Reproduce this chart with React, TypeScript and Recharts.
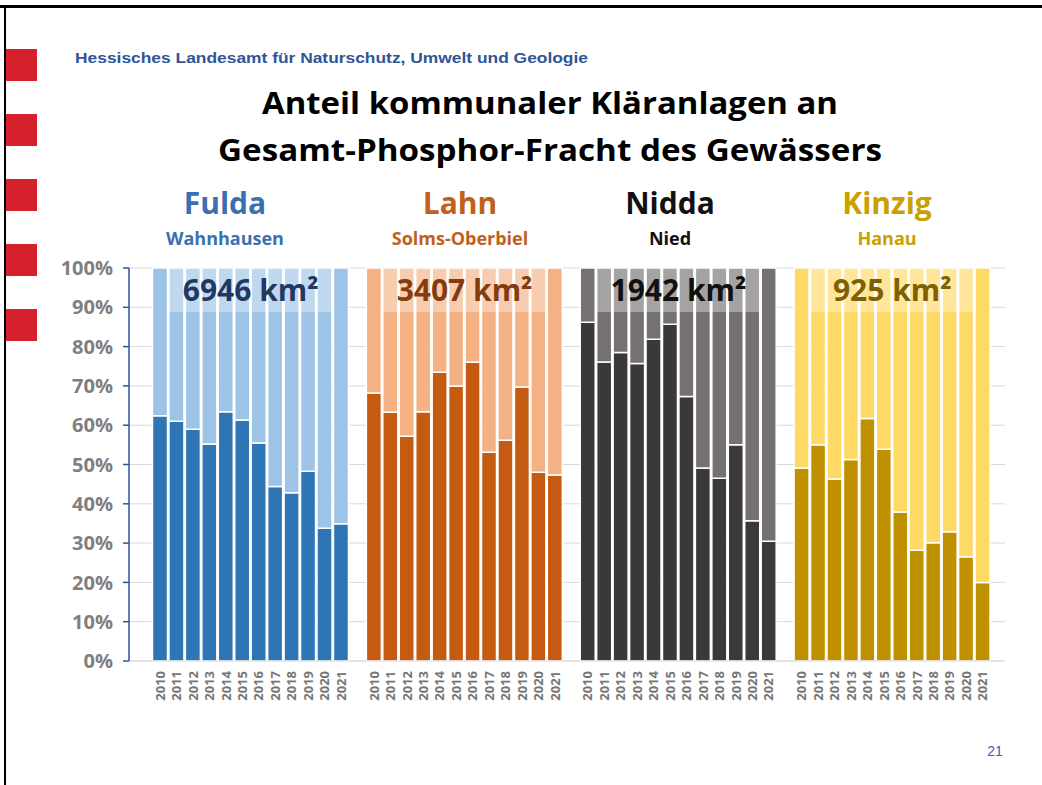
import React from "react";
import {
  BarChart,
  Bar,
  XAxis,
  YAxis,
  CartesianGrid,
  Cell,
  ReferenceArea,
} from "recharts";

const years = ["2010", "2011", "2012", "2013", "2014", "2015", "2016", "2017", "2018", "2019", "2020", "2021"];
const rivers = ["Fulda", "Lahn", "Nidda", "Kinzig"];
const gauges = ["Wahnhausen", "Solms-Oberbiel", "Nied", "Hanau"];
const catchments = ["6946 km²", "3407 km²", "1942 km²", "925 km²"];

// share of municipal treatment plants in total phosphorus load, %
const fuldaShare = [62.4, 61.0, 59.0, 55.2, 63.4, 61.3, 55.5, 44.4, 42.8, 48.3, 33.8, 34.9];
const lahnShare = [68.2, 63.3, 57.2, 63.4, 73.5, 70.0, 76.0, 53.1, 56.2, 69.7, 48.0, 47.3];
const niddaShare = [86.2, 76.1, 78.5, 75.7, 81.9, 85.7, 67.3, 49.1, 46.5, 55.0, 35.7, 30.5];
const kinzigShare = [49.1, 55.0, 46.3, 51.3, 61.7, 53.9, 37.9, 28.2, 30.1, 32.9, 26.5, 20.0];

const yTicks = [0, 10, 20, 30, 40, 50, 60, 70, 80, 90, 100];

// styles
const darkColors = ["#2E75B6", "#C55A11", "#3B3838", "#BF9000"];
const lightColors = ["#9DC3E6", "#F4B183", "#767171", "#FFD966"];
const titleColors = ["#3A70B0", "#C0601A", "#111111", "#C9A000"];
const areaTextColors = ["#1F3864", "#843C0C", "#111111", "#7F6000"];
const titleX = [225, 460, 670, 887];

const shares = [fuldaShare, lahnShare, niddaShare, kinzigShare];

const rows: any[] = [];
rivers.forEach((river, r) => {
  if (r > 0) rows.push({ key: `gap${r}`, group: -1, share: null, rest: null });
  years.forEach((year, i) => {
    const v = shares[r][i];
    rows.push({ key: `${river}-${year}`, group: r, share: v, rest: +(100 - v).toFixed(1) });
  });
});

const YearTick = ({ x, y, payload }: any) => {
  const year = String(payload.value).split("-")[1] || "";
  return (
    <text
      x={x}
      y={y}
      transform={`rotate(-90 ${x} ${y})`}
      dx={-2}
      dy="0.35em"
      textAnchor="end"
      fill="#767676"
      fontSize={13}
      fontWeight={700}
      fontFamily="Open Sans"
    >
      {year}
    </text>
  );
};

const App = () => {
  return (
    <div style={{ position: "absolute", left: 0, top: 0, width: 1042, height: 785, background: "#fff", overflow: "hidden" }}>
      {/* frame lines */}
      <div style={{ position: "absolute", left: 0, top: 5, width: 1042, height: 3, background: "#000" }} />
      <div style={{ position: "absolute", left: 4, top: 5, width: 2, height: 780, background: "#000" }} />
      {/* red side marks */}
      {[49, 114, 179, 244, 309].map((t) => (
        <div key={t} style={{ position: "absolute", left: 6, top: t, width: 31, height: 32, background: "#D7202E" }} />
      ))}

      <svg width={1042} height={785} style={{ position: "absolute", left: 0, top: 0 }}>
        <text x={75} y={63} fontFamily="Liberation Sans" fontWeight={700} fontSize={15} fill="#2F5597" textLength={513} lengthAdjust="spacingAndGlyphs">
          Hessisches Landesamt für Naturschutz, Umwelt und Geologie
        </text>
        <text x={550} y={114} textAnchor="middle" fontFamily="Open Sans" fontWeight={700} fontSize={31} fill="#000" textLength={576} lengthAdjust="spacingAndGlyphs">
          Anteil kommunaler Kläranlagen an
        </text>
        <text x={550} y={161} textAnchor="middle" fontFamily="Open Sans" fontWeight={700} fontSize={31} fill="#000" textLength={664} lengthAdjust="spacingAndGlyphs">
          Gesamt-Phosphor-Fracht des Gewässers
        </text>
        {rivers.map((river, r) => (
          <g key={river}>
            <text x={titleX[r]} y={214} textAnchor="middle" fontFamily="Open Sans" fontWeight={700} fontSize={30} fill={titleColors[r]}>
              {river}
            </text>
            <text x={titleX[r]} y={245} textAnchor="middle" fontFamily="Open Sans" fontWeight={700} fontSize={18} fill={titleColors[r]}>
              {gauges[r]}
            </text>
          </g>
        ))}
        <text x={995} y={756} textAnchor="middle" fontFamily="Liberation Sans" fontSize={14} fill="#5050C8">
          21
        </text>
      </svg>

      <div style={{ position: "absolute", left: 0, top: 0 }}>
        <BarChart
          width={1042}
          height={785}
          data={rows}
          margin={{ top: 268, right: 37, bottom: 64, left: 0 }}
          barCategoryGap={0.5}
        >
          <CartesianGrid vertical={false} stroke="#D9D9D9" />

          <XAxis
            dataKey="key"
            interval={0}
            height={60}
            padding={{ left: 23, right: 14 }}
            axisLine={{ stroke: "#D9D9D9" }}
            tickLine={false}
            tick={<YearTick />}
          />

          <YAxis
            width={129}
            domain={[0, 100]}
            ticks={yTicks}
            tickFormatter={(v: number) => `${v}%`}
            axisLine={{ stroke: "#2F5597", strokeWidth: 1.5 }}
            tickLine={{ stroke: "#2F5597", strokeWidth: 1.5 }}
            tickSize={6}
            tickMargin={10}
            tick={{ fill: "#7F7F7F", fontSize: 20, fontWeight: 700, fontFamily: "Open Sans" }}
          />

          {/* municipal share (dark) */}
          <Bar dataKey="share" stackId="s" stroke="#ffffff" strokeWidth={1.5} isAnimationActive={false}>
            {rows.map((row) => (
              <Cell key={row.key} fill={row.group >= 0 ? darkColors[row.group] : "none"} />
            ))}
          </Bar>

          {/* remainder (light) */}
          <Bar dataKey="rest" stackId="s" stroke="#ffffff" strokeWidth={1.5} isAnimationActive={false}>
            {rows.map((row) => (
              <Cell key={row.key} fill={row.group >= 0 ? lightColors[row.group] : "none"} />
            ))}
          </Bar>

          {/* catchment area boxes */}
          {rivers.map((river, r) => (
            <ReferenceArea
              key={river}
              x1={`${river}-2011`}
              x2={`${river}-2020`}
              y1={88.8}
              y2={100}
              fill="#ffffff"
              fillOpacity={0.35}
              stroke="none"
              zIndex={1000}
              label={{
                value: catchments[r],
                position: "center",
                fill: areaTextColors[r],
                fontSize: 30,
                fontWeight: 700,
                fontFamily: "Open Sans",
              }}
            />
          ))}
        </BarChart>
      </div>
    </div>
  );
};

export default App;
